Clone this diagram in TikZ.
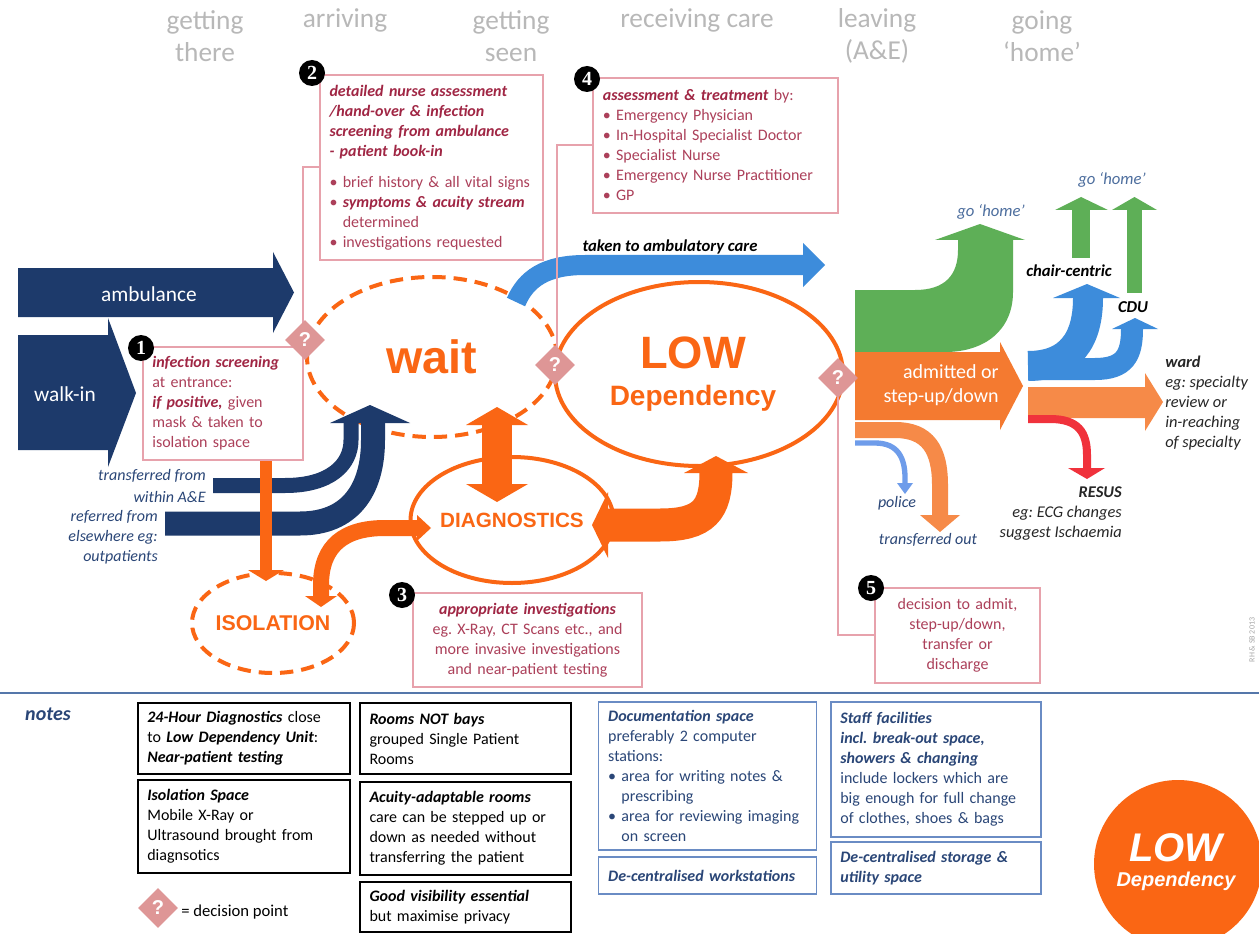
\documentclass[tikz,border=0pt]{standalone}
\usepackage{fontspec}
\setmainfont{Carlito}
\newfontfamily\arl{Liberation Sans}
\newfontfamily\srf{Liberation Serif}
\usetikzlibrary{shapes.geometric}
\newcommand\fsz[2]{\fontsize{#1}{#2}\selectfont}
\newcommand\bfit{\bfseries\itshape}
\definecolor{navy}{HTML}{1D3A6B}
\definecolor{ora}{HTML}{FA6614}
\definecolor{orb}{HTML}{F47A30}
\definecolor{orc}{HTML}{F68A48}
\definecolor{grn}{HTML}{5EAF57}
\definecolor{blu}{HTML}{3D8CDB}
\definecolor{lblu}{HTML}{6E9CEA}
\definecolor{rd}{HTML}{F0323C}
\definecolor{pinkln}{HTML}{E7A2AC}
\definecolor{dia}{HTML}{DE9696}
\definecolor{txr}{HTML}{A02644}
\definecolor{txr2}{HTML}{AC405A}
\definecolor{navtx}{HTML}{2A4677}
\definecolor{gohc}{HTML}{4D6E9E}
\definecolor{sepc}{HTML}{5577AA}
\definecolor{bluebox}{HTML}{6A8CC4}
\definecolor{hdrc}{HTML}{B8B8B8}
\frenchspacing
\begin{document}
\begin{tikzpicture}[x=0.75pt,y=-0.75pt,
  hdr/.style={text=hdrc, font=\fsz{20.5}{24}, align=center, inner sep=0pt},
  pbox/.style={draw=pinkln, line width=0.8pt, fill=white, inner xsep=7pt, inner ysep=0pt, text=txr2, font=\fsz{12}{15}, align=left},
  numdot/.style={circle, fill=black, minimum size=19.5pt, inner sep=0pt, text=white, font=\srf\bfseries\fsz{15}{15}},
  dec/.style={diamond, fill=dia, minimum width=30pt, minimum height=30pt, inner sep=0pt, text=white, font=\arl\bfseries\fsz{15}{15}},
  nbox/.style={draw=black, line width=0.9pt, fill=white, inner xsep=7pt, inner ysep=0pt, align=left, font=\fsz{12}{15}},
  bbox/.style={draw=bluebox, line width=0.9pt, fill=white, inner xsep=7pt, inner ysep=0pt, align=left, text=navtx, font=\fsz{12}{15}},
  lab/.style={inner sep=0pt, font=\itshape\fsz{12}{16}, text=navtx},
  pinkline/.style={draw=pinkln, line width=0.8pt},
  oell/.style={ellipse, draw=ora, line width=3pt, inner sep=0pt, text=ora},
  dashell/.style={oell, dash pattern=on 10pt off 6pt}
]
\useasboundingbox (0,0) rectangle (1259,934);
\fill[white] (0,0) rectangle (1259,934);

% headers
\node[hdr] (h1) at (205,36) {getting\\there};
\node[hdr] (h2) at (345,20) {arriving};
\node[hdr] (h3) at (511,36) {getting\\seen};
\node[hdr] (h4) at (697,20) {receiving care};
\node[hdr] (h5) at (877,36) {leaving\\(A\&E)};
\node[hdr] (h6) at (1042,36) {going\\‘home’};

% ellipses
\node[dashell, minimum width=187.5pt, minimum height=120pt, font=\arl\bfseries\fsz{35}{35}] (wait) at (432,357) {wait};
\node[oell, minimum width=216pt, minimum height=138pt] (low) at (699,374) {};
\node[inner sep=0pt, text=ora, font=\arl\bfseries\fsz{34}{34}] (lowa) at (693,353) {LOW};
\node[inner sep=0pt, text=ora, font=\arl\bfseries\fsz{21}{21}] (lowb) at (693,398) {Dependency};
\node[oell, minimum width=132pt, minimum height=94.5pt, font=\arl\bfseries\fsz{15.5}{16}] (diag) at (512,520) {DIAGNOSTICS};
\node[dashell, minimum width=106.5pt, minimum height=75pt, font=\arl\bfseries\fsz{16}{16}] (iso) at (273,623) {ISOLATION};

% entry arrows
\fill[navy] (18,268) -- (273,268) -- (273,252) -- (294,292.5) -- (273,333) -- (273,317) -- (18,317) -- cycle;
\node[text=white, inner sep=0pt, font=\fsz{16}{18}] (amb) at (149,294) {ambulance};
\fill[navy] (18,335) -- (108,335) -- (108,318) -- (136,393) -- (108,467) -- (108,450) -- (18,450) -- cycle;
\node[text=white, inner sep=0pt, font=\fsz{16}{18}] (walk) at (65,394) {walk-in};

\draw[navy, line width=18pt] (165,523.5) -- (300,523.5) .. controls (350,523.5) and (373,490) .. (373,440) -- (373,421);
\draw[navy, line width=11.25pt] (213,485.5) -- (285,485.5) .. controls (330,485.5) and (351,465) .. (351,440) -- (351,421);
\fill[navy] (330,423) -- (370,405) -- (410,423) -- cycle;

% blue ambulatory
\draw[blu, line width=15pt] (516,302) .. controls (526,279) and (545,265) .. (585,265) -- (804,265);
\fill[blu] (803,243) -- (825,265) -- (803,287) -- cycle;
\node[inner sep=0pt, font=\bfit\fsz{12.5}{14}] (ambc) at (670,247) {taken to ambulatory care};

% orange flows
\coordinate (b1s) at (266,460);
\coordinate (isn) at (266,571);
\draw[ora, line width=9pt] (b1s) -- (isn);
\fill[ora] (248,570) -- (266,581) -- (284,570) -- cycle;
\draw[ora, line width=12pt] (419,528) -- (385,528) .. controls (345,528) and (321,545) .. (321,585) -- (321,597);
\fill[ora] (417,515) -- (431,528) -- (417,541) -- cycle;
\fill[ora] (305,596) -- (321,607) -- (337,596) -- cycle;
\draw[ora, line width=22.5pt] (497,424) -- (497,485);
\fill[ora] (466,425) -- (497,407) -- (528,425) -- cycle;
\fill[ora] (466,484) -- (497,502) -- (528,484) -- cycle;
\draw[ora, line width=24.75pt] (607,525) -- (660,525) .. controls (704,525) and (716,510) .. (716,472);
\fill[ora] (608,492) -- (592,525) -- (608,558) -- cycle;
\fill[ora] (684,473) -- (716,456) -- (748,473) -- cycle;

% right side flows
\fill[grn] (855,290) -- (915,290) .. controls (945,290) and (958,275) .. (958,250) -- (958,240) -- (935,240) -- (980,224) -- (1025,240) -- (1013,240) -- (1013,292) .. controls (1013,330) and (985,352) .. (945,352) -- (855,352) -- cycle;
\fill[orb] (855,352) -- (1000,352) -- (1000,342) -- (1023,386) -- (1000,430) -- (1000,420) -- (855,420) -- cycle;
\node[anchor=east, align=right, text=white, inner sep=0pt, font=\fsz{15}{17.5}] (adm) at (999,385) {admitted or\\step-up/down};
\draw[orc, line width=12pt] (855,430) -- (895,430) .. controls (928,430) and (940,450) .. (940,485) -- (940,516);
\fill[orc] (920,515) -- (940,532) -- (960,515) -- cycle;
\draw[lblu, line width=4pt] (855,443) -- (875,443) .. controls (898,443) and (905,458) .. (905,478) -- (905,484);
\fill[lblu] (897,483) -- (905,494) -- (913,483) -- cycle;

\fill[grn] (1072,258) rectangle (1090,209);
\fill[grn] (1055,210) -- (1081,197) -- (1108,210) -- cycle;
\fill[grn] (1127,293) rectangle (1142,209);
\fill[grn] (1112,210) -- (1134.5,197) -- (1157,210) -- cycle;

\draw[blu, line width=22.5pt] (1028,366) .. controls (1070,366) and (1088,340) .. (1088,298);
\draw[blu, line width=16.5pt] (1028,369) -- (1095,369) .. controls (1125,369) and (1132,355) .. (1132,329);
\fill[blu] (1053,298) -- (1087,284) -- (1120,298) -- cycle;
\fill[blu] (1112,329) -- (1135,318) -- (1158,329) -- cycle;

\fill[orc] (1028,387) -- (1145,387) -- (1145,373) -- (1163,402) -- (1145,431) -- (1145,418) -- (1028,418) -- cycle;
\draw[rd, line width=6pt] (1028,419) -- (1050,419) .. controls (1078,419) and (1087,432) .. (1087,455) -- (1087,469);
\fill[rd] (1068,468) -- (1087,479) -- (1105,468) -- cycle;

% labels right
\node[inner sep=0pt, font=\itshape\fsz{12.5}{14}, text=gohc] (gh1) at (991,212) {go ‘home’};
\node[inner sep=0pt, font=\itshape\fsz{12.5}{14}, text=gohc] (gh2) at (1112,180) {go ‘home’};
\node[inner sep=0pt, font=\bfit\fsz{12.5}{14}] (chair) at (1069,271) {chair-centric};
\node[inner sep=0pt, font=\bfit\fsz{12.5}{14}] (cdu) at (1133,307) {CDU};
\node[anchor=west, align=left, inner sep=0pt, font=\itshape\fsz{12.3}{15}, text=black!85] (ward) at (1165,403) {{\bfseries ward}\\eg: specialty\\review or\\in-reaching\\of specialty};
\node[anchor=east, align=right, inner sep=0pt, font=\itshape\fsz{12.3}{15}, text=black!85] (resus) at (1122,514) {{\bfseries RESUS}\\eg: ECG changes\\suggest Ischaemia};
\node[lab] (police) at (897,503) {police};
\node[lab] (tout) at (928,540) {transferred out};
\node[lab, anchor=east, align=right] (tfrom) at (206,486) {transferred from\\within A\&E};
\node[lab, anchor=east, align=right, font=\itshape\fsz{12}{15}] (rfrom) at (158,537) {referred from\\elsewhere eg:\\outpatients};

% connectors to decision points
\coordinate (d1c) at (305,340);
\coordinate (d2c) at (555,365);
\coordinate (d3c) at (838,378);
\coordinate (k2) at (303,167);
\coordinate (k4) at (557,145);
\coordinate (k5) at (838,635);
\draw[pinkline] (320,167) -- (k2) -- (d1c -| k2);
\draw[pinkline] (593,145) -- (k4) -- (d2c -| k4);
\draw[pinkline] (d3c) -- (k5) -- (875,635);

% info boxes
\node[pbox, minimum width=120pt, minimum height=84.75pt, text width=106pt] (box1) at (223,403.5) {{\bfit\color{txr} infection screening}\\at entrance:\\{\bfit\color{txr} if positive,} given\\mask \& taken to\\isolation space};
\node[pbox, minimum width=167.25pt, minimum height=138.75pt, text width=153pt] (box2) at (431.5,167.5) {{\bfit\color{txr} detailed nurse assessment\\/hand-over \& infection\\screening from ambulance\\- patient book-in}\\[8pt]• brief history \& all vital signs\\• {\bfit\color{txr} symptoms \& acuity stream}\\\phantom{• }determined\\• investigations requested};
\node[pbox, minimum width=183.75pt, minimum height=101.25pt, text width=169pt] (box4) at (715.5,145.5) {{\bfit\color{txr} assessment \& treatment} by:\\• Emergency Physician\\• In-Hospital Specialist Doctor\\• Specialist Nurse\\• Emergency Nurse Practitioner\\• GP};
\node[pbox, align=center, minimum width=171.75pt, minimum height=70.5pt, text width=157pt] (box3) at (527.5,640) {{\bfit\color{txr} appropriate investigations}\\eg. X-Ray, CT Scans etc., and\\more invasive investigations\\and near-patient testing};
\node[pbox, align=center, minimum width=123.75pt, minimum height=71.25pt, text width=109pt] (box5) at (957.5,635.5) {decision to admit,\\step-up/down,\\transfer or\\discharge};

% decision points
\node[dec] (d1) at (d1c) {?};
\node[dec] (d2) at (d2c) {?};
\node[dec] (d3) at (d3c) {?};

% numbered markers
\node[numdot] (m1) at (141,348) {1};
\node[numdot] (m2) at (312,73) {2};
\node[numdot] (m3) at (402,595) {3};
\node[numdot] (m4) at (587,79) {4};
\node[numdot] (m5) at (871,588) {5};

\node[rotate=90, inner sep=0pt, text=gray!70, font=\fsz{6}{7}] (cr) at (1252,640) {RH \& SB 2013};

% notes section
\coordinate (sepl) at (0,693);
\coordinate (sepr) at (1259,693);
\draw[sepc, line width=0.8pt] (sepl) -- (sepr);
\node[inner sep=0pt, text=navtx, font=\bfit\fsz{15}{18}] (notes) at (48,714) {notes};

\node[nbox, minimum width=159pt, minimum height=53.25pt, text width=145pt] (nA) at (244,738.5) {{\bfit 24-Hour Diagnostics} close\\to {\bfit Low Dependency Unit}:\\{\bfit Near-patient testing}};
\node[nbox, minimum width=159pt, minimum height=69.75pt, text width=145pt] (nB) at (244,826.5) {{\bfit Isolation Space}\\Mobile X-Ray or\\Ultrasound brought from\\diagnsotics};
\node[nbox, minimum width=158.25pt, minimum height=53.25pt, text width=144pt] (nC) at (465.5,738.5) {{\bfit Rooms NOT bays}\\grouped Single Patient\\Rooms};
\node[nbox, minimum width=158.25pt, minimum height=69.75pt, text width=144pt] (nD) at (465.5,828.5) {{\bfit Acuity-adaptable rooms}\\care can be stepped up or\\down as needed without\\transferring the patient};
\node[nbox, minimum width=158.25pt, minimum height=37.5pt, text width=144pt] (nE) at (465.5,907) {{\bfit Good visibility essential}\\but maximise privacy};

\node[bbox, minimum width=162.75pt, minimum height=111pt, text width=149pt] (nF) at (707.5,776) {{\bfit Documentation space}\\preferably 2 computer\\stations:\\• area for writing notes \&\\\phantom{• }prescribing\\• area for reviewing imaging\\\phantom{• }on screen};
\node[bbox, minimum width=162.75pt, minimum height=27.75pt, text width=149pt] (nG) at (707.5,875.5) {{\bfit De-centralised workstations}};
\node[bbox, minimum width=157.5pt, minimum height=101.25pt, text width=143.5pt] (nH) at (936,769.5) {{\bfit Staff facilities}\\{\bfit incl. break-out space,}\\{\bfit showers \& changing}\\include lockers which are\\big enough for full change\\of clothes, shoes \& bags};
\node[bbox, minimum width=157.5pt, minimum height=39pt, text width=143.5pt] (nI) at (936,868) {{\bfit De-centralised storage \&}\\{\bfit utility space}};

\node[dec] (dleg) at (158,908) {?};
\node[anchor=west, inner sep=0pt, font=\fsz{12.5}{14}] (dlegt) at (181,912) {= decision point};

\node[circle, fill=ora, minimum size=126pt, inner sep=0pt] (ldc) at (1178,864) {};
\node[inner sep=0pt, text=white, font=\arl\bfseries\itshape\fsz{30}{30}] (ldc1) at (1176,848) {LOW};
\node[inner sep=0pt, text=white, font=\arl\bfseries\itshape\fsz{15}{15}] (ldc2) at (1176,881) {Dependency};
\end{tikzpicture}
\end{document}
